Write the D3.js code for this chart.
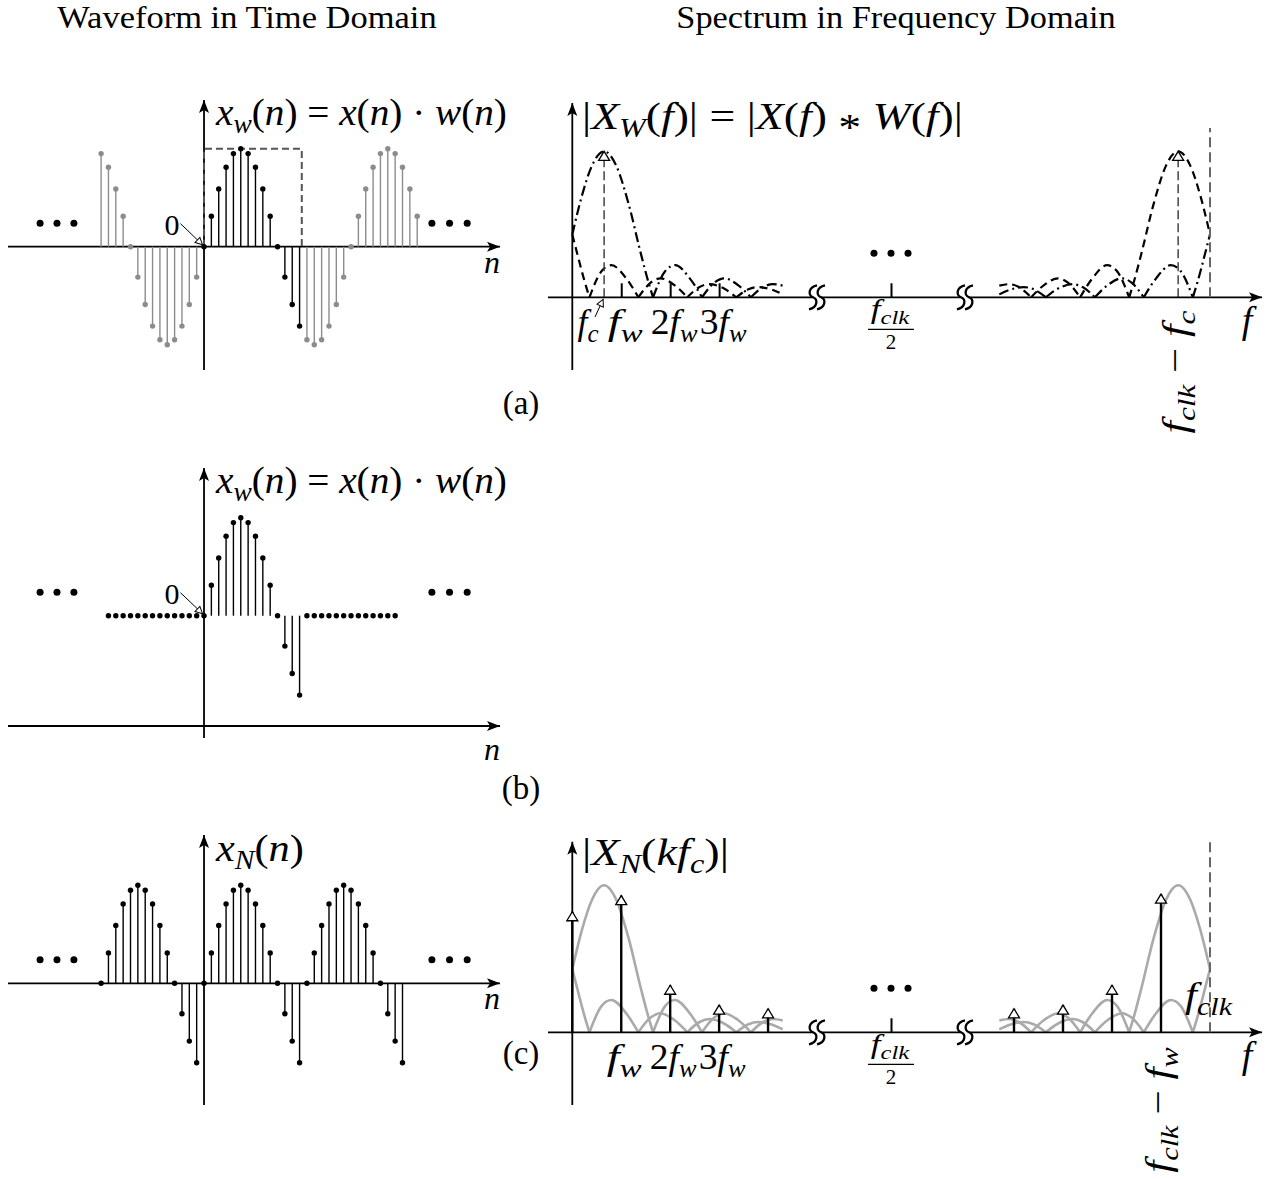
<!DOCTYPE html>
<html>
<head>
<meta charset="utf-8">
<script src="https://cdn.jsdelivr.net/npm/d3@7"></script>
<style>
  body { margin: 0; background: #fff; }
  text { font-family: "Liberation Serif", "Times New Roman", serif; fill: #000; white-space: pre; }
</style>
</head>
<body>
<div id="fig"></div>
<script>
// ---------- time domain samples (peak = 1) ----------
var winN = [0, 1, 2, 3, 4, 5, 6, 7, 8, 9, 10, 11, 12, 13];
var winX = [0, 0.31, 0.59, 0.81, 0.95, 1, 0.95, 0.81, 0.59, 0.31, 0, -0.31, -0.59, -0.81];
var windowEdge = [0, 13.3];

var sineLeftN = [-14, -13, -12, -11, -10, -9, -8, -7, -6, -5, -4, -3, -2, -1];
var sineLeftX = [0.95, 0.81, 0.59, 0.31, 0, -0.31, -0.59, -0.81, -0.95, -1, -0.95, -0.81, -0.59, -0.31];
var sineRightN = [14, 15, 16, 17, 18, 19, 20, 21, 22, 23, 24, 25, 26, 27, 28, 29];
var sineRightX = [-0.95, -1, -0.95, -0.81, -0.59, -0.31, 0, 0.31, 0.59, 0.81, 0.95, 1, 0.95, 0.81, 0.59, 0.31];

var zeroLeftN = [-13, -12, -11, -10, -9, -8, -7, -6, -5, -4, -3, -2, -1];
var zeroRightN = [14, 15, 16, 17, 18, 19, 20, 21, 22, 23, 24, 25, 26];

var perN = [-14, -13, -12, -11, -10, -9, -8, -7, -6, -5, -4, -3, -2, -1,
            0, 1, 2, 3, 4, 5, 6, 7, 8, 9, 10, 11, 12, 13,
            14, 15, 16, 17, 18, 19, 20, 21, 22, 23, 24, 25, 26, 27];
var perX = [0, 0.31, 0.59, 0.81, 0.95, 1, 0.95, 0.81, 0.59, 0.31, 0, -0.31, -0.59, -0.81,
            0, 0.31, 0.59, 0.81, 0.95, 1, 0.95, 0.81, 0.59, 0.31, 0, -0.31, -0.59, -0.81,
            0, 0.31, 0.59, 0.81, 0.95, 1, 0.95, 0.81, 0.59, 0.31, 0, -0.31, -0.59, -0.81];

var dotsLeftN = [-22.3, -20, -17.7];
var dotsRightN = [31, 33.4, 35.8];

// ---------- frequency domain (f in units of f_w) ----------
var fc = 0.65;
var fclk = 20;
var fBreaks = [5, 15];
var fTicks = [1, 2, 3];
var fTickLabels = ["f_w", "2f_w", "3f_w"];
var fTickWidths = [37, 47, 47];
var fHalf = 10;
var fHalfDots = [-1.15, 0, 1.15];

// |X(f)| lobe around +fc (dash-dot on the left)
var specFcLeft = [[0, 0.43], [0.2, 0.7], [0.4, 0.9], [0.65, 1], [0.9, 0.9], [1.15, 0.64], [1.4, 0.3], [1.55, 0.11], [1.65, 0],
                  [1.9, 0.18], [2.1, 0.22], [2.4, 0.13], [2.65, 0],
                  [2.9, 0.1], [3.1, 0.13], [3.4, 0.08], [3.65, 0],
                  [3.9, 0.07], [4.1, 0.09], [4.3, 0.08]];
// image around -fc (dashed on the left)
var specImgLeft = [[0, 0.43], [0.1, 0.3], [0.25, 0.11], [0.35, 0],
                   [0.6, 0.18], [0.8, 0.22], [1.1, 0.13], [1.35, 0],
                   [1.6, 0.1], [1.8, 0.13], [2.1, 0.08], [2.35, 0],
                   [2.6, 0.07], [2.8, 0.09], [3.1, 0.06], [3.35, 0],
                   [3.6, 0.055], [3.8, 0.07], [4.1, 0.05], [4.3, 0.02]];
// image around fclk - fc (dashed on the right)
var specImgRight = [[15.7, 0.08], [15.9, 0.09], [16.1, 0.07], [16.35, 0],
                    [16.6, 0.08], [16.9, 0.13], [17.1, 0.1], [17.35, 0],
                    [17.6, 0.13], [17.9, 0.22], [18.1, 0.18], [18.35, 0],
                    [18.45, 0.11], [18.6, 0.3], [18.85, 0.64], [19.1, 0.9], [19.35, 1], [19.6, 0.9], [19.8, 0.7], [20, 0.43]];
// lobe around fclk + fc (dash-dot on the right)
var specFcRight = [[15.7, 0.02], [15.9, 0.05], [16.2, 0.07], [16.4, 0.055], [16.65, 0],
                   [16.9, 0.06], [17.2, 0.09], [17.4, 0.07], [17.65, 0],
                   [17.9, 0.08], [18.2, 0.13], [18.4, 0.1], [18.65, 0],
                   [18.9, 0.13], [19.2, 0.22], [19.4, 0.18], [19.65, 0],
                   [19.75, 0.11], [19.9, 0.3], [20, 0.43]];

// DFT lines |X_N(k fc)|
var lineF = [0, 1, 2, 3, 4, 16, 17, 18, 19];
var lineMag = [0.82, 0.93, 0.32, 0.185, 0.16, 0.16, 0.185, 0.32, 0.94];

// ---------- layout ----------
var svg = d3.select("#fig").append("svg")
    .attr("width", 1276)
    .attr("height", 1179);

var defs = svg.append("defs");
defs.append("marker")
    .attr("id", "arr")
    .attr("viewBox", "-14 -6 16 12")
    .attr("refX", 0).attr("refY", 0)
    .attr("markerWidth", 16).attr("markerHeight", 12)
    .attr("markerUnits", "userSpaceOnUse")
    .attr("orient", "auto")
    .append("path")
    .attr("d", "M0,0 L-13,-5 L-10,0 L-13,5 Z")
    .attr("fill", "#000");
defs.append("marker")
    .attr("id", "tri")
    .attr("viewBox", "-11 -7 13 14")
    .attr("refX", 0).attr("refY", 0)
    .attr("markerWidth", 13).attr("markerHeight", 14)
    .attr("markerUnits", "userSpaceOnUse")
    .attr("orient", "auto")
    .append("path")
    .attr("d", "M0,0 L-9,-5.5 L-9,5.5 Z")
    .attr("fill", "#fff").attr("stroke", "#000").attr("stroke-width", 1.3);
defs.append("marker")
    .attr("id", "small")
    .attr("viewBox", "-9 -5 10 10")
    .attr("refX", 0).attr("refY", 0)
    .attr("markerWidth", 10).attr("markerHeight", 10)
    .attr("markerUnits", "userSpaceOnUse")
    .attr("orient", "auto")
    .append("path")
    .attr("d", "M0,0 L-7,-3.5 L-7,3.5 Z")
    .attr("fill", "#fff").attr("stroke", "#000").attr("stroke-width", 1);

// simple math text: letters italic, "_x" or "_{xyz}" subscript, "*" as a centred operator
function parseMath(s) {
    var parts = [], i = 0;
    while (i < s.length) {
        var ch = s[i];
        if (ch === "_") {
            var sub, next;
            if (s[i + 1] === "{") {
                var j = s.indexOf("}", i);
                sub = s.slice(i + 2, j);
                next = j + 1;
            } else {
                sub = s[i + 1];
                next = i + 2;
            }
            parts.push([sub, "s"]);
            i = next;
        } else if (ch === "*") {
            parts.push([ch, "a"]);
            i++;
        } else {
            var kind = /[A-Za-z]/.test(ch) ? "i" : "r";
            if (parts.length && parts[parts.length - 1][1] === kind) parts[parts.length - 1][0] += ch;
            else parts.push([ch, kind]);
            i++;
        }
    }
    return parts;
}

// stretch a text horizontally (around its anchor) towards the width it has in the figure
function fitWidth(t, x, y, w) {
    if (!w) return t;
    var bw = t.node().getBBox().width;
    if (!bw) return t;
    var s = Math.max(0.8, Math.min(1.3, w / bw));
    t.attr("transform", "translate(" + x + "," + y + ") scale(" + s + ",1) translate(" + (-x) + "," + (-y) + ")");
    return t;
}

function mathText(g, x, y, str, size, anchor, width) {
    var t = g.append("text")
        .attr("x", x).attr("y", y)
        .attr("font-size", size)
        .attr("text-anchor", anchor || "start");
    var off = 0;
    parseMath(str).forEach(function(p) {
        var s = t.append("tspan").text(p[0]);
        var want = 0;
        if (p[1] === "i" || p[1] === "s") s.attr("font-style", "italic");
        if (p[1] === "s") { s.attr("font-size", size * 0.7); want = size * 0.22; }
        if (p[1] === "a") { want = size * 0.3; }
        if (want !== off) s.attr("dy", want - off);
        off = want;
    });
    return fitWidth(t, x, y, width);
}

// headers
fitWidth(svg.append("text").attr("x", 247).attr("y", 28).attr("font-size", 31)
    .attr("text-anchor", "middle").text("Waveform in Time Domain"), 247, 28, 380);
fitWidth(svg.append("text").attr("x", 896).attr("y", 28).attr("font-size", 31)
    .attr("text-anchor", "middle").text("Spectrum in Frequency Domain"), 896, 28, 440);

// ---------- time domain panels ----------
var nScale = d3.scaleLinear().domain([-14, 29]).range([101.1, 417.2]);
var timeZero = [246.7, 615.7, 983.3];
var timeAxisY = [246.7, 726, 983.3];
var timeTop = [100, 468, 835];
var timeBottom = [370, 738, 1105];
var grey = "#8c8c8c";

function timeY(row) {
    return d3.scaleLinear().domain([0, 1]).range([timeZero[row], timeZero[row] - 98]);
}

function timeAxes(row) {
    var g = svg.append("g");
    g.append("line")
        .attr("x1", 8).attr("x2", 500)
        .attr("y1", timeAxisY[row]).attr("y2", timeAxisY[row])
        .attr("stroke", "#000").attr("stroke-width", 1.8)
        .attr("marker-end", "url(#arr)");
    g.append("line")
        .attr("x1", nScale(0)).attr("x2", nScale(0))
        .attr("y1", timeBottom[row]).attr("y2", timeTop[row])
        .attr("stroke", "#000").attr("stroke-width", 1.8)
        .attr("marker-end", "url(#arr)");
    var ny = row === 1 ? 760 : timeAxisY[row] + 26;
    svg.append("text").attr("x", 492).attr("y", ny).attr("font-size", 32)
        .attr("text-anchor", "middle").attr("font-style", "italic").text("n");
    return g;
}

function drawStems(y, ns, vals, color) {
    var g = svg.append("g");
    g.selectAll("line").data(ns).enter().append("line")
        .attr("x1", d => nScale(d)).attr("x2", d => nScale(d))
        .attr("y1", y(0)).attr("y2", (d, i) => y(vals[i]))
        .attr("stroke", color).attr("stroke-width", 1.4);
    g.selectAll("circle").data(ns).enter().append("circle")
        .attr("cx", d => nScale(d)).attr("cy", (d, i) => y(vals[i]))
        .attr("r", 2.7).attr("fill", color);
}

function ellipsis(y) {
    var vals = dotsLeftN.concat(dotsRightN);
    svg.append("g").selectAll("circle").data(vals).enter().append("circle")
        .attr("cx", d => nScale(d)).attr("cy", y(0.24))
        .attr("r", 3.5).attr("fill", "#000");
}

function zeroLabel(y) {
    svg.append("text").attr("x", 172).attr("y", y(0) - 12).attr("font-size", 30)
        .attr("text-anchor", "middle").text("0");
    svg.append("line")
        .attr("x1", 180.5).attr("y1", y(0) - 23)
        .attr("x2", nScale(0) - 1.5).attr("y2", y(0) - 2)
        .attr("stroke", "#000").attr("stroke-width", 1)
        .attr("marker-end", "url(#small)");
}

// (a) windowed sine
var yA = timeY(0);
timeAxes(0);
svg.append("path")
    .attr("d", d3.line()([[nScale(windowEdge[0]), yA(0)], [nScale(windowEdge[0]), yA(1)],
                          [nScale(windowEdge[1]), yA(1)], [nScale(windowEdge[1]), yA(0)]]))
    .attr("fill", "none").attr("stroke", "#555").attr("stroke-width", 2)
    .attr("stroke-dasharray", "7,4");
drawStems(yA, sineLeftN, sineLeftX, grey);
drawStems(yA, sineRightN, sineRightX, grey);
drawStems(yA, winN, winX, "#000");
ellipsis(yA);
zeroLabel(yA);
mathText(svg, 216, 125, "x_w(n) = x(n) · w(n)", 38, "start", 292);
svg.append("text").attr("x", 521).attr("y", 414).attr("font-size", 33)
    .attr("text-anchor", "middle").text("(a)");

// (b) windowed sequence only
var yB = timeY(1);
timeAxes(1);
drawStems(yB, zeroLeftN, zeroLeftN.map(() => 0), "#000");
drawStems(yB, zeroRightN, zeroRightN.map(() => 0), "#000");
drawStems(yB, winN, winX, "#000");
ellipsis(yB);
zeroLabel(yB);
mathText(svg, 216, 493, "x_w(n) = x(n) · w(n)", 38, "start", 292);
svg.append("text").attr("x", 521).attr("y", 799).attr("font-size", 33)
    .attr("text-anchor", "middle").text("(b)");

// (c) periodic extension
var yC = timeY(2);
timeAxes(2);
drawStems(yC, perN, perX, "#000");
ellipsis(yC);
mathText(svg, 216, 861, "x_N(n)", 38, "start", 89);
svg.append("text").attr("x", 521).attr("y", 1064).attr("font-size", 33)
    .attr("text-anchor", "middle").text("(c)");

// ---------- frequency domain panels ----------
var fScale = d3.scaleLinear()
    .domain([0, fBreaks[0], fBreaks[1], fclk])
    .range([572.3, 817, 965, 1210]);

function lobes(pts) {
    var out = [], cur = [];
    pts.slice().sort((a, b) => a[0] - b[0]).forEach(function(p) {
        cur.push(p);
        if (p[1] === 0 && cur.length > 1) { out.push(cur); cur = [p]; }
    });
    if (cur.length > 1) out.push(cur);
    return out;
}

function drawSpec(y, pts, stroke, width, dash) {
    var line = d3.line().x(d => fScale(d[0])).y(d => y(d[1])).curve(d3.curveMonotoneX);
    var g = svg.append("g");
    lobes(pts).forEach(function(l) {
        g.append("path").attr("d", line(l))
            .attr("fill", "none").attr("stroke", stroke).attr("stroke-width", width)
            .attr("stroke-dasharray", dash || null);
    });
}

function breakMark(cx, cy) {
    svg.append("rect").attr("x", cx - 4).attr("y", cy - 3).attr("width", 8).attr("height", 6).attr("fill", "#fff");
    [-4, 4].forEach(function(dx) {
        var x = cx + dx;
        svg.append("path")
            .attr("d", "M" + (x + 4) + "," + (cy - 12) + " C" + (x - 5) + "," + (cy - 10) + " " + (x - 5) + "," + (cy - 2) + " " + x + "," + cy +
                  " C" + (x + 5) + "," + (cy + 2) + " " + (x + 5) + "," + (cy + 10) + " " + (x - 4) + "," + (cy + 12))
            .attr("fill", "none").attr("stroke", "#000").attr("stroke-width", 2.3);
    });
}

function specAxes(axisY, top, bottom, tickVals, fclkTop) {
    var y0 = axisY;
    svg.append("line")
        .attr("x1", 548).attr("x2", 1262).attr("y1", y0).attr("y2", y0)
        .attr("stroke", "#000").attr("stroke-width", 1.8)
        .attr("marker-end", "url(#arr)");
    svg.append("line")
        .attr("x1", fScale(0)).attr("x2", fScale(0)).attr("y1", bottom).attr("y2", top)
        .attr("stroke", "#000").attr("stroke-width", 1.8)
        .attr("marker-end", "url(#arr)");
    var ax = svg.append("g")
        .attr("transform", "translate(0," + y0 + ")")
        .call(d3.axisTop(fScale).tickValues(tickVals).tickSize(14).tickFormat("").tickSizeOuter(0));
    ax.select(".domain").remove();
    ax.selectAll(".tick line").attr("stroke", "#000").attr("stroke-width", 2);
    breakMark(fScale(fBreaks[0]), y0);
    breakMark(fScale(fBreaks[1]), y0);
    // f_clk boundary
    svg.append("line")
        .attr("x1", fScale(fclk)).attr("x2", fScale(fclk)).attr("y1", y0).attr("y2", fclkTop)
        .attr("stroke", "#666").attr("stroke-width", 2).attr("stroke-dasharray", "10,5");
    // dots above f_clk/2
    svg.append("g").selectAll("circle").data(fHalfDots).enter().append("circle")
        .attr("cx", d => fScale(fHalf + d)).attr("cy", y0 - 44)
        .attr("r", 3.5).attr("fill", "#000");
    // f_clk / 2 label
    var cx = fScale(fHalf);
    mathText(svg, cx - 1, y0 + 21, "f_{clk}", 27, "middle", 44);
    svg.append("line").attr("x1", cx - 23).attr("x2", cx + 23).attr("y1", y0 + 32).attr("y2", y0 + 32)
        .attr("stroke", "#000").attr("stroke-width", 1.3);
    svg.append("text").attr("x", cx).attr("y", y0 + 52).attr("font-size", 21)
        .attr("text-anchor", "middle").text("2");
    svg.append("text").attr("x", 1247).attr("y", y0 + 36).attr("font-size", 38)
        .attr("text-anchor", "middle").attr("font-style", "italic").text("f");
}

// (a) spectrum
var sA = d3.scaleLinear().domain([0, 1]).range([297.3, 151.3]);
drawSpec(sA, specImgLeft, "#000", 2.2, "8,5");
drawSpec(sA, specImgRight, "#000", 2.2, "8,5");
drawSpec(sA, specFcLeft, "#000", 2.2, "10,4,2,4");
drawSpec(sA, specFcRight, "#000", 2.2, "10,4,2,4");
[fc, fclk - fc].forEach(function(f) {
    svg.append("line")
        .attr("x1", fScale(f)).attr("x2", fScale(f)).attr("y1", sA(0)).attr("y2", sA(1))
        .attr("stroke", "#444").attr("stroke-width", 1.5).attr("stroke-dasharray", "9,4")
        .attr("marker-end", "url(#tri)");
});
specAxes(sA(0), 103, 370, fTicks.concat([fHalf]), 128);
fTicks.forEach(function(f, i) {
    mathText(svg, fScale(f) + 4, sA(0) + 37, fTickLabels[i], 36, "middle", fTickWidths[i]);
});
mathText(svg, 588, sA(0) + 37, "f_c", 36, "middle", 21);
svg.append("line")
    .attr("x1", 595).attr("y1", 317).attr("x2", fScale(fc) - 1).attr("y2", sA(0) + 2)
    .attr("stroke", "#000").attr("stroke-width", 1)
    .attr("marker-end", "url(#small)");
mathText(svg, 582, 129, "|X_W(f)| = |X(f) * W(f)|", 38, "start", 381);
var rotA = svg.append("g").attr("transform", "translate(1187," + 372 + ") rotate(-90)");
mathText(rotA, 0, 0, "f_{clk} − f_c", 36, "middle", 123);

// (c) spectrum of the periodic sequence
var sC = d3.scaleLinear().domain([0, 1]).range([1032.3, 885.3]);
drawSpec(sC, specImgLeft, "#aaa", 2.6);
drawSpec(sC, specImgRight, "#aaa", 2.6);
drawSpec(sC, specFcLeft, "#aaa", 2.6);
drawSpec(sC, specFcRight, "#aaa", 2.6);
specAxes(sC(0), 841.7, 1105, [fHalf], 841.7);
svg.append("g").selectAll("line").data(lineF).enter().append("line")
    .attr("x1", d => fScale(d)).attr("x2", d => fScale(d))
    .attr("y1", sC(0)).attr("y2", (d, i) => sC(lineMag[i]))
    .attr("stroke", "#000").attr("stroke-width", 2.4)
    .attr("marker-end", "url(#tri)");
fTicks.forEach(function(f, i) {
    mathText(svg, fScale(f) + 3, sC(0) + 37, fTickLabels[i], 36, "middle", fTickWidths[i]);
});
mathText(svg, 1185, 1007, "f_{clk}", 36, "start", 48);
mathText(svg, 582, 865, "|X_N(kf_c)|", 38, "start", 147);
var rotC = svg.append("g").attr("transform", "translate(1170," + 1110 + ") rotate(-90)");
mathText(rotC, 0, 0, "f_{clk} − f_w", 36, "middle", 126);
</script>
</body>
</html>
